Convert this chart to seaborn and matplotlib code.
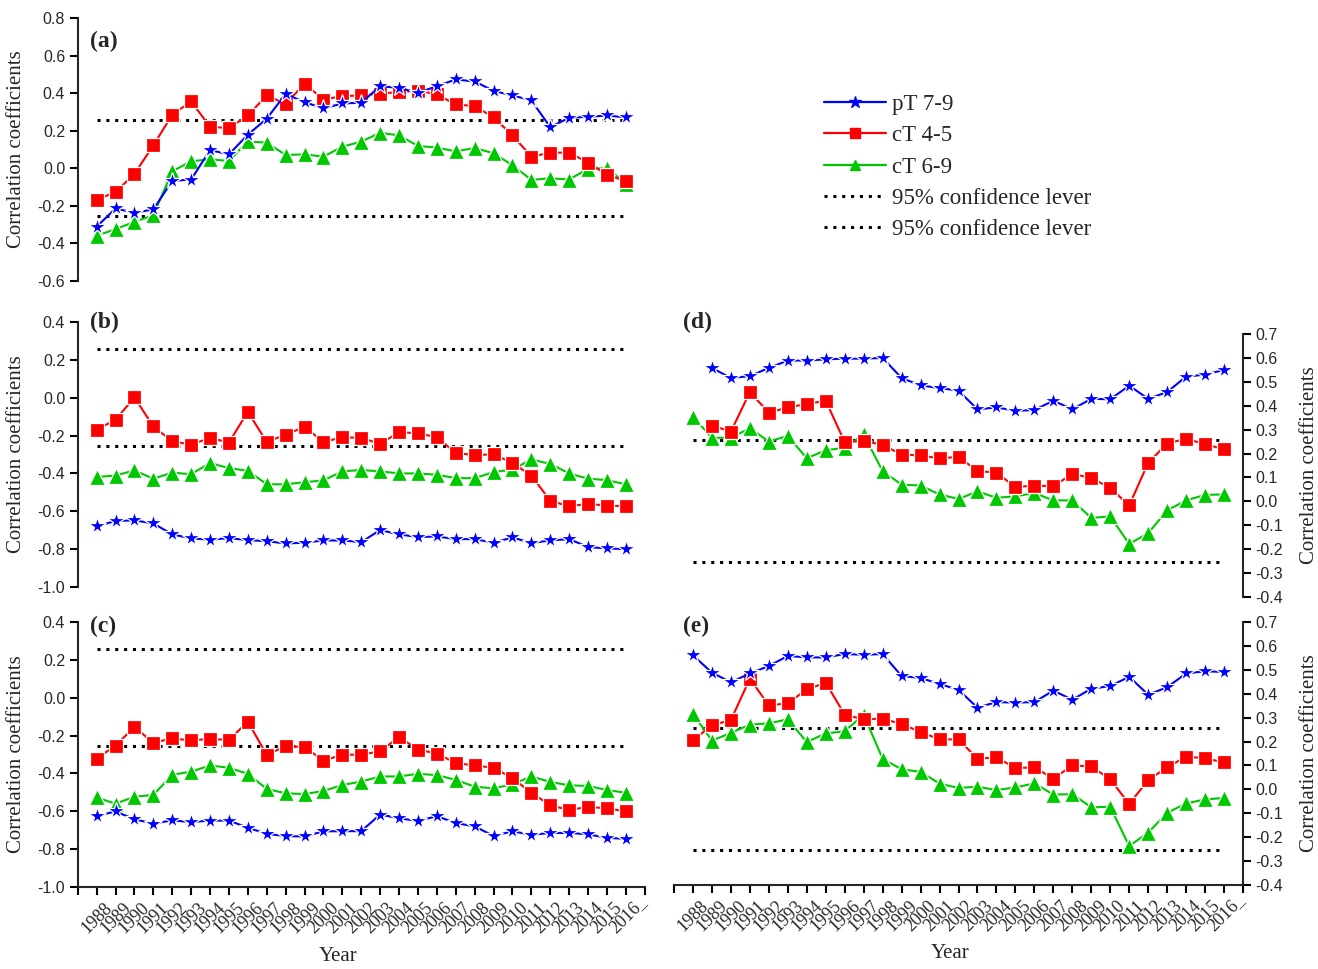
import numpy as np
import pandas as pd
import matplotlib
matplotlib.use("Agg")
import matplotlib.pyplot as plt
import seaborn as sns
from matplotlib.lines import Line2D
from matplotlib.ticker import FormatStrFormatter

# ---------------- data ----------------
years = list(range(1988, 2017))
year_labels = [str(y) for y in years]
series_names = ["pT 7-9", "cT 4-5", "cT 6-9"]
conf_label = "95% confidence lever"
conf_level = 0.255

# panel (a)
a_pT79 = [-0.311, -0.214, -0.237, -0.219, -0.067, -0.060, 0.097, 0.074, 0.179, 0.264,
          0.396, 0.352, 0.319, 0.345, 0.349, 0.437, 0.428, 0.402, 0.437, 0.473,
          0.462, 0.412, 0.388, 0.361, 0.219, 0.269, 0.274, 0.281, 0.271]
a_cT45 = [-0.168, -0.126, -0.030, 0.122, 0.285, 0.356, 0.221, 0.214, 0.281, 0.388,
          0.343, 0.450, 0.366, 0.384, 0.388, 0.398, 0.405, 0.414, 0.393, 0.340,
          0.331, 0.271, 0.175, 0.062, 0.083, 0.083, 0.030, -0.034, -0.069]
a_cT69 = [-0.359, -0.324, -0.285, -0.250, -0.016, 0.037, 0.048, 0.039, 0.143, 0.136,
          0.071, 0.074, 0.062, 0.115, 0.142, 0.189, 0.175, 0.119, 0.110, 0.090,
          0.108, 0.080, 0.016, -0.062, -0.053, -0.060, -0.002, 0.000, -0.081]

# panel (b)
b_pT79 = [-0.680, -0.651, -0.648, -0.664, -0.722, -0.743, -0.750, -0.742, -0.752, -0.758,
          -0.770, -0.766, -0.754, -0.754, -0.763, -0.699, -0.722, -0.736, -0.733, -0.747,
          -0.747, -0.766, -0.738, -0.768, -0.754, -0.747, -0.789, -0.796, -0.800]
b_cT45 = [-0.168, -0.117, 0.002, -0.152, -0.230, -0.248, -0.212, -0.237, -0.074, -0.234,
          -0.195, -0.154, -0.234, -0.209, -0.212, -0.244, -0.182, -0.188, -0.209, -0.292,
          -0.303, -0.299, -0.345, -0.411, -0.545, -0.573, -0.561, -0.570, -0.573]
b_cT69 = [-0.419, -0.411, -0.384, -0.428, -0.396, -0.404, -0.345, -0.372, -0.386, -0.457,
          -0.458, -0.446, -0.437, -0.389, -0.382, -0.389, -0.400, -0.400, -0.407, -0.425,
          -0.425, -0.393, -0.379, -0.326, -0.350, -0.400, -0.428, -0.435, -0.458]

# panel (c)
c_pT79 = [-0.625, -0.601, -0.642, -0.665, -0.648, -0.657, -0.649, -0.649, -0.687, -0.719,
          -0.731, -0.733, -0.706, -0.705, -0.705, -0.617, -0.637, -0.651, -0.626, -0.662,
          -0.680, -0.730, -0.706, -0.724, -0.715, -0.714, -0.722, -0.740, -0.746]
c_cT45 = [-0.322, -0.253, -0.155, -0.238, -0.215, -0.226, -0.217, -0.224, -0.126, -0.302,
          -0.256, -0.260, -0.333, -0.301, -0.301, -0.283, -0.208, -0.274, -0.295, -0.345,
          -0.358, -0.370, -0.425, -0.502, -0.569, -0.593, -0.577, -0.584, -0.601]
c_cT69 = [-0.527, -0.560, -0.523, -0.514, -0.407, -0.391, -0.358, -0.370, -0.402, -0.482,
          -0.505, -0.509, -0.493, -0.461, -0.443, -0.416, -0.416, -0.402, -0.409, -0.434,
          -0.470, -0.479, -0.457, -0.416, -0.445, -0.463, -0.466, -0.488, -0.502]

# panel (d)  (pT 7-9 and cT 4-5 start in 1989)
d_pT79 = [0.558, 0.516, 0.524, 0.558, 0.589, 0.589, 0.594, 0.597, 0.597, 0.600,
          0.516, 0.485, 0.474, 0.463, 0.385, 0.393, 0.379, 0.382, 0.421, 0.385,
          0.429, 0.427, 0.484, 0.429, 0.457, 0.522, 0.530, 0.550]
d_cT45 = [0.317, 0.292, 0.457, 0.371, 0.393, 0.407, 0.421, 0.248, 0.253, 0.236,
          0.196, 0.192, 0.180, 0.186, 0.127, 0.120, 0.060, 0.066, 0.063, 0.115,
          0.098, 0.056, -0.017, 0.161, 0.242, 0.262, 0.239, 0.218]
d_cT69 = [0.354, 0.266, 0.266, 0.306, 0.250, 0.274, 0.180, 0.214, 0.224, 0.280,
          0.126, 0.070, 0.066, 0.029, 0.010, 0.042, 0.015, 0.021, 0.035, 0.004,
          0.004, -0.069, -0.063, -0.178, -0.133, -0.038, 0.004, 0.027, 0.029]

# panel (e)
e_pT79 = [0.561, 0.488, 0.448, 0.485, 0.516, 0.558, 0.552, 0.552, 0.566, 0.563,
          0.566, 0.474, 0.466, 0.441, 0.416, 0.342, 0.365, 0.363, 0.365, 0.413,
          0.375, 0.421, 0.432, 0.471, 0.396, 0.427, 0.485, 0.494, 0.491]
e_cT45 = [0.205, 0.268, 0.290, 0.463, 0.351, 0.360, 0.418, 0.446, 0.312, 0.293,
          0.296, 0.273, 0.240, 0.209, 0.209, 0.128, 0.134, 0.089, 0.092, 0.045,
          0.100, 0.096, 0.042, -0.061, 0.039, 0.092, 0.137, 0.130, 0.113]
e_cT69 = [0.315, 0.204, 0.236, 0.271, 0.276, 0.293, 0.198, 0.234, 0.243, 0.312,
          0.128, 0.084, 0.073, 0.024, 0.006, 0.011, -0.003, 0.008, 0.025, -0.022,
          -0.020, -0.075, -0.073, -0.237, -0.181, -0.098, -0.059, -0.042, -0.036]

# ---------------- style ----------------
sns.set_style("ticks")
plt.rcParams["font.family"] = ["Liberation Serif", "DejaVu Serif"]
plt.rcParams["axes.unicode_minus"] = False
SANS = "Liberation Sans"

W, H = 1318, 969
fig = plt.figure(figsize=(W / 100, H / 100), dpi=100)


def frac_box(x0, y_top, x1, y_bot):
    return [x0 / W, 1 - y_bot / H, (x1 - x0) / W, (y_bot - y_top) / H]


ax_a = fig.add_axes(frac_box(77.7, 18, 644.8, 281))
ax_b = fig.add_axes(frac_box(77.7, 322, 644.8, 587))
ax_c = fig.add_axes(frac_box(77.7, 622, 644.8, 887))
ax_d = fig.add_axes(frac_box(674, 334, 1243, 597))
ax_e = fig.add_axes(frac_box(674, 622, 1243, 885))

colors = {"pT 7-9": "#0000FF", "cT 4-5": "#FF0000", "cT 6-9": "#00C800"}
markers = {"pT 7-9": "*", "cT 4-5": "s", "cT 6-9": "^"}
msizes = {"pT 7-9": 13, "cT 4-5": 9.5, "cT 6-9": 11}

idx_all = list(range(len(years)))


def draw_series(ax, vals, name, start=0):
    df = pd.DataFrame({"x": idx_all[start:start + len(vals)], "y": vals})
    sns.lineplot(data=df, x="x", y="y", ax=ax, color=colors[name], marker=markers[name],
                 markersize=msizes[name], markeredgecolor="white", markeredgewidth=0.9,
                 linewidth=1.5, sort=False, estimator=None, legend=False, zorder=3)


def draw_conf(ax):
    for lv in (conf_level, -conf_level):
        ax.hlines(lv, idx_all[0], idx_all[-1], colors="black", linestyles=(0, (1, 1.9)),
                  linewidth=2.2, zorder=2)


panels = [
    (ax_a, a_pT79, a_cT45, a_cT69, 0, 0),
    (ax_b, b_pT79, b_cT45, b_cT69, 0, 0),
    (ax_c, c_pT79, c_cT45, c_cT69, 0, 0),
    (ax_d, d_pT79, d_cT45, d_cT69, 1, 1),
    (ax_e, e_pT79, e_cT45, e_cT69, 0, 0),
]
for ax, p, r, g, sp, sr in panels:
    draw_conf(ax)
    draw_series(ax, g, "cT 6-9")
    draw_series(ax, r, "cT 4-5", start=sr)
    draw_series(ax, p, "pT 7-9", start=sp)
    ax.set_xlim(-1, 29)
    ax.set_xlabel("")
    ax.set_ylabel("")
    for s in ax.spines.values():
        s.set_linewidth(1.5)
        s.set_visible(False)
    ax.tick_params(axis="both", direction="out", length=5.5, width=1.5, color="black")

# left column
ylims_left = {ax_a: (-0.6, 0.8), ax_b: (-1.0, 0.4), ax_c: (-1.0, 0.4)}
for ax, (lo, hi) in ylims_left.items():
    ax.set_ylim(lo, hi)
    ax.set_yticks(np.round(np.arange(lo, hi + 0.01, 0.2), 1) + 0.0)
    ax.yaxis.set_major_formatter(FormatStrFormatter("%.1f"))
    ax.spines["left"].set_visible(True)
    ax.set_ylabel("Correlation coefficients", fontsize=15)
    ax.yaxis.set_label_coords(-0.092, 0.5)
    for t in ax.get_yticklabels():
        t.set_fontfamily(SANS)
        t.set_fontsize(11.5)

# right column
for ax in (ax_d, ax_e):
    ax.set_ylim(-0.4, 0.7)
    ax.set_yticks(np.round(np.arange(-0.4, 0.71, 0.1), 1) + 0.0)
    ax.yaxis.set_major_formatter(FormatStrFormatter("%.1f"))
    ax.yaxis.tick_right()
    ax.yaxis.set_label_position("right")
    ax.spines["right"].set_visible(True)
    ax.set_ylabel("Correlation coefficients", fontsize=15, rotation=90)
    ax.yaxis.set_label_coords(1.1, 0.5)
    for t in ax.get_yticklabels():
        t.set_fontfamily(SANS)
        t.set_fontsize(11.5)

# x axes
xtick_pos = [-1] + idx_all + [29]
xtick_lab = [""] + year_labels + ["–"]
for ax in (ax_a, ax_b, ax_d):
    ax.set_xticks([])
for ax, xc in ((ax_c, 0.46), (ax_e, 0.485)):
    ax.spines["bottom"].set_visible(True)
    ax.set_xticks(xtick_pos)
    ax.set_xticklabels(xtick_lab, rotation=45, ha="center", fontsize=13)
    ax.set_xlabel("Year", fontsize=15)
    ax.xaxis.set_label_coords(xc, -0.225)

# panel letters
for lab, (px, py) in {"(a)": (90, 41), "(b)": (90, 322), "(c)": (90, 626),
                      "(d)": (683, 322), "(e)": (683, 626)}.items():
    fig.text(px / W, 1 - py / H, lab, fontsize=17, fontweight="bold", va="center", ha="left")

# legend
handles = [Line2D([], [], color=colors[n], marker=markers[n], markersize=msizes[n] * 0.7,
                  linewidth=1.6) for n in series_names]
handles += [Line2D([], [], color="black", linestyle=(0, (1, 1.9)), linewidth=2.2)
            for _ in range(2)]
labels = series_names + [conf_label, conf_label]
fig.legend(handles, labels, loc="upper left", bbox_to_anchor=(824 / W, 1 - 94 / H),
           frameon=False, fontsize=16.5, handlelength=2.7, handletextpad=0.25,
           labelspacing=0.45, borderpad=0, borderaxespad=0, numpoints=1)

fig.savefig("out.png", dpi=100)
